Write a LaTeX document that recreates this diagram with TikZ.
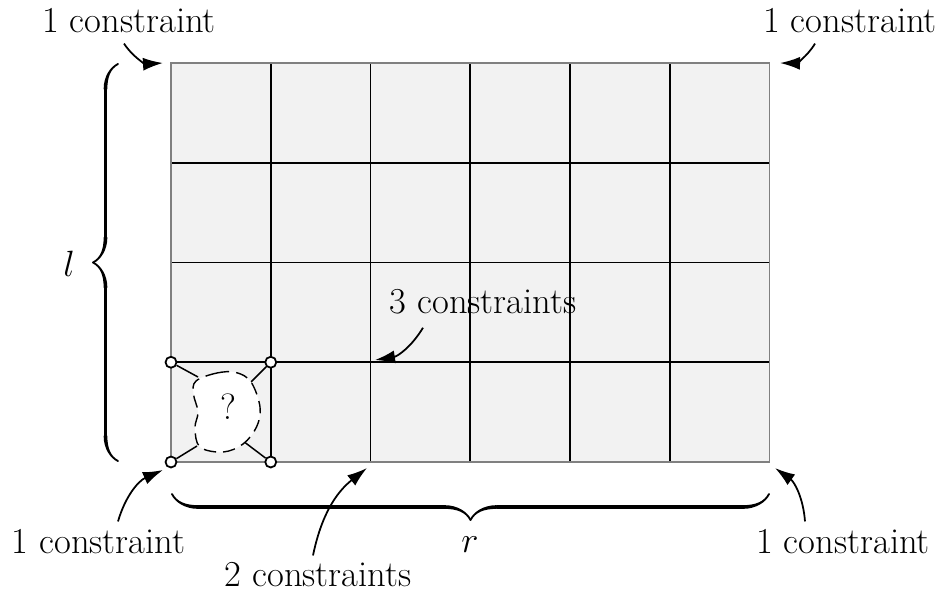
\RequirePackage{fix-cm}
\documentclass[tikz,border=0pt]{standalone}
\usepackage{fontspec}
\usetikzlibrary{arrows.meta,decorations.pathreplacing,calligraphy}
\begin{document}
\begin{tikzpicture}[
  lbl/.style={font=\fontsize{20.8}{25}\selectfont, inner sep=0pt},
  arr/.style={line width=1pt, -{Latex[length=0.4cm,width=0.26cm]}},
  gridline/.style={line width=0.9pt, black},
  corner/.style={circle, draw=black, fill=white, line width=1pt, minimum size=0.22cm, inner sep=0pt},
  bracestyle/.style={decorate, line width=2.1pt, pen colour={black}},
]
\useasboundingbox (0,0) rectangle (18.8,11.88);
% grid
\fill[gray!10] (3.42,2.64) rectangle (15.39,10.62);
\foreach \i in {1,...,5} \draw[gridline] ({3.42+\i*1.995},2.64) -- ({3.42+\i*1.995},10.62);
\foreach \j in {1,2,3} \draw[gridline] (3.42,{2.64+\j*1.995}) -- (15.39,{2.64+\j*1.995});
\draw[line width=0.9pt, gray] (3.42,2.64) rectangle (15.39,10.62);
% corner circles
\node[corner] (c1) at (3.42,4.635) {};
\node[corner] (c2) at (5.415,4.635) {};
\node[corner] (c3) at (3.42,2.64) {};
\node[corner] (c4) at (5.415,2.64) {};
\coordinate (b1) at (3.96,4.34);
\coordinate (b2) at (5.00,4.22);
\coordinate (b3) at (3.94,2.96);
\coordinate (b4) at (4.86,3.06);
\draw[line width=0.85pt] (c1) -- (b1) (c2) -- (b2) (c3) -- (b3) (c4) -- (b4);
% blob
\draw[fill=white, line width=0.8pt, dash pattern=on 7pt off 4pt]
  plot[smooth cycle, tension=0.6] coordinates {(3.92,4.26) (4.34,4.42) (4.72,4.43) (5.02,4.24) (5.20,3.74) (5.13,3.34) (4.86,3.0) (4.46,2.84) (4.0,2.94) (3.9,3.32) (3.96,3.64) (3.87,4.0)};
\node[lbl] (q) at (4.56,3.74) {?};
% braces
\draw[bracestyle, decoration={calligraphic brace, amplitude=0.5cm}] (2.36,2.66) -- (2.36,10.6);
\node[lbl] (l) at (1.38,6.6) {$l$};
\draw[bracestyle, decoration={calligraphic brace, amplitude=0.52cm}] (15.38,2.0) -- (3.44,2.0);
\node[lbl] (r) at (9.4,0.98) {$r$};
% labels
\node[lbl] (tl) at (2.58,11.46) {1 constraint};
\node[lbl] (tr) at (17.0,11.46) {1 constraint};
\node[lbl] (mid) at (9.66,5.84) {3 constraints};
\node[lbl] (bl) at (1.97,1.04) {1 constraint};
\node[lbl] (bm) at (6.36,0.38) {2 constraints};
\node[lbl] (br) at (16.86,1.04) {1 constraint};
% arrow targets
\coordinate (ttl) at (3.26,10.62);
\coordinate (ttr) at (15.6,10.62);
\coordinate (tmid) at (7.5,4.68);
\coordinate (tbl) at (3.26,2.48);
\coordinate (tbm) at (7.34,2.52);
\coordinate (tbr) at (15.5,2.52);
\draw[arr] (tl.south -| 2.48,0) ++(0,-0.2) to[bend right=30] (ttl);
\draw[arr] (tr.south -| 16.3,0) ++(0,-0.2) to[bend left=30] (ttr);
\draw[arr] (mid.south -| 8.46,0) ++(0,-0.26) to[bend left=25] (tmid);
\draw[arr] (bl.north -| 2.36,0) ++(0,0.16) to[bend left=25] (tbl);
\draw[arr] (bm.north -| 6.26,0) ++(0,0.14) to[bend left=20] (tbm);
\draw[arr] (br.north -| 16.1,0) ++(0,0.16) to[bend right=25] (tbr);
\end{tikzpicture}
\end{document}
